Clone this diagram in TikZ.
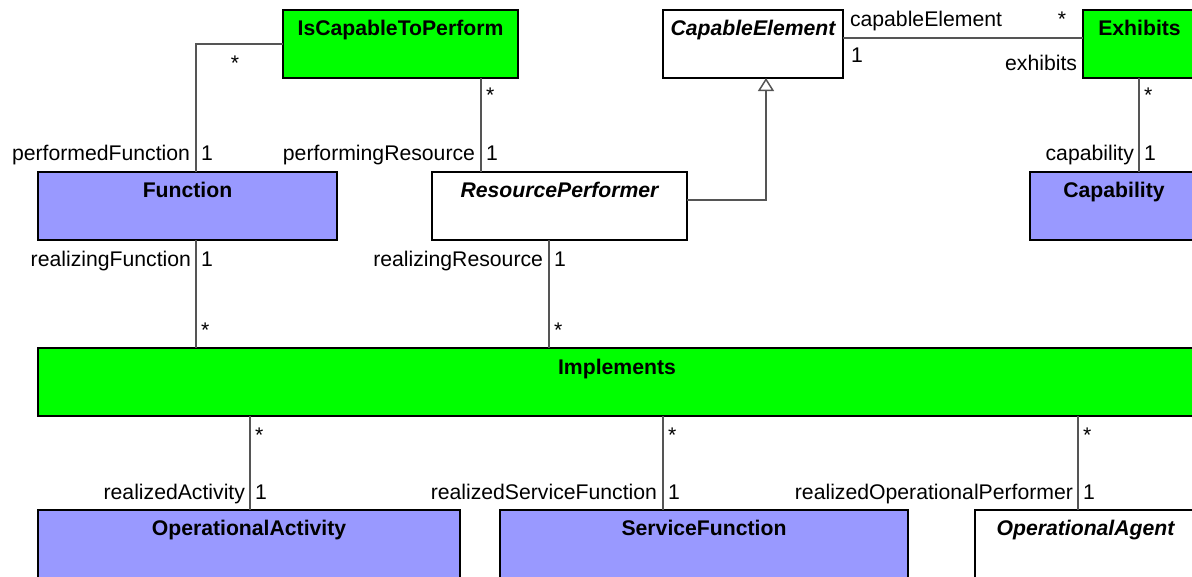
\documentclass[tikz,border=0pt]{standalone}
\usepackage{fontspec}
\setmainfont{Liberation Sans}
\usetikzlibrary{arrows.meta}
\definecolor{umlgreen}{HTML}{00FF00}
\definecolor{umlblue}{HTML}{9999FF}
\definecolor{connclr}{HTML}{555555}
\begin{document}
\begin{tikzpicture}[x=1pt,y=-1pt,
  every node/.style={font=\fontsize{21.2}{25}\selectfont, inner sep=0pt, outer sep=0pt},
  cls/.style={draw=black, line width=1.5pt, anchor=north west, minimum height=68pt},
  greenbox/.style={cls, fill=umlgreen},
  bluebox/.style={cls, fill=umlblue},
  whitebox/.style={cls, fill=white},
  ttl/.style={font=\fontsize{21.2}{25}\selectfont\bfseries, anchor=base},
  ttli/.style={font=\fontsize{21.2}{25}\selectfont\bfseries\itshape, anchor=base},
  conn/.style={draw=connclr, line width=1.5pt},
  role/.style={anchor=base east},
  mult/.style={anchor=base west},
]
\useasboundingbox (0,0) rectangle (1192,576);
\begin{scope}
\clip (0,0) rectangle (1192,576);
% boxes
\node[greenbox, minimum width=235pt] (isc) at (283,10) {};
\node[whitebox, minimum width=180pt] (ce) at (663,10) {};
\node[greenbox, minimum width=113pt] (ex) at (1083,10) {};
\node[bluebox, minimum width=299pt] (fn) at (38,172) {};
\node[whitebox, minimum width=255pt] (rp) at (432,172) {};
\node[bluebox, minimum width=168pt] (cap) at (1030,172) {};
\node[greenbox, minimum width=1158pt] (imp) at (38,348) {};
\node[bluebox, minimum width=422pt] (oa) at (38,510) {};
\node[bluebox, minimum width=408pt] (sf) at (500,510) {};
\node[whitebox, minimum width=221pt] (ag) at (975,510) {};
% titles
\node[ttl] (isct) at ([yshift=-25pt]isc.north) {IsCapableToPerform};
\node[ttli] (cet) at ([yshift=-25pt]ce.north) {CapableElement};
\node[ttl] (ext) at ([yshift=-25pt]ex.north) {Exhibits};
\node[ttl] (fnt) at ([yshift=-25pt]fn.north) {Function};
\node[ttli] (rpt) at ([yshift=-25pt]rp.north) {ResourcePerformer};
\node[ttl] (capt) at ([yshift=-25pt]cap.north) {Capability};
\node[ttl] (impt) at ([yshift=-26pt]imp.north) {Implements};
\node[ttl] (oat) at ([yshift=-25pt]oa.north) {OperationalActivity};
\node[ttl] (sft) at ([yshift=-25pt]sf.north) {ServiceFunction};
\node[ttli] (agt) at ([yshift=-25pt]ag.north) {OperationalAgent};
% connector coordinates
\coordinate (c1) at (196,44);
\coordinate (c2) at (481,0);
\coordinate (c3) at (843,38);
\coordinate (c4) at (1139,0);
\coordinate (c5) at (196,0);
\coordinate (c6) at (549,0);
\coordinate (c7) at (250,0);
\coordinate (c8) at (663,0);
\coordinate (c9) at (1078,0);
\coordinate (g1) at (766,200);
% connectors
\draw[conn] (isc.west |- c1) -- (c1) -- (fn.north -| c1);
\draw[conn] (isc.south -| c2) -- (rp.north -| c2);
\draw[conn] (ce.east |- c3) -- (ex.west |- c3);
\draw[conn] (ex.south -| c4) -- (cap.north -| c4);
\draw[conn] (fn.south -| c5) -- (imp.north -| c5);
\draw[conn] (rp.south -| c6) -- (imp.north -| c6);
\draw[conn] (imp.south -| c7) -- (oa.north -| c7);
\draw[conn] (imp.south -| c8) -- (sf.north -| c8);
\draw[conn] (imp.south -| c9) -- (ag.north -| c9);
\draw[conn, -{Triangle[open, width=16pt, length=13pt, line width=1.5pt]}] (rp.east |- g1) -- (g1) -- (ce.south -| g1);
% labels
\node[anchor=base] (l1) at (235,70) {*};
\node[role] (l2) at (190,160) {performedFunction};
\node[mult] (l3) at (201,160) {1};
\node[mult] (l4) at (486,102) {*};
\node[role] (l5) at (475,160) {performingResource};
\node[mult] (l6) at (486,160) {1};
\node[mult] (l7) at (850,26) {capableElement};
\node[role] (l8) at (1066,26) {*};
\node[mult] (l9) at (851,62) {1};
\node[role] (l10) at (1077,70) {exhibits};
\node[mult] (l11) at (1144,102) {*};
\node[role] (l12) at (1134,160) {capability};
\node[mult] (l13) at (1144,160) {1};
\node[role] (l14) at (191,266) {realizingFunction};
\node[mult] (l15) at (201,266) {1};
\node[mult] (l16) at (201,337) {*};
\node[role] (l17) at (543,266) {realizingResource};
\node[mult] (l18) at (554,266) {1};
\node[mult] (l19) at (554,337) {*};
\node[mult] (l20) at (255,442) {*};
\node[role] (l21) at (245,499) {realizedActivity};
\node[mult] (l22) at (255,499) {1};
\node[mult] (l23) at (668,442) {*};
\node[role] (l24) at (657,499) {realizedServiceFunction};
\node[mult] (l25) at (668,499) {1};
\node[mult] (l26) at (1083,442) {*};
\node[role] (l27) at (1073,499) {realizedOperationalPerformer};
\node[mult] (l28) at (1083,499) {1};
\end{scope}
\end{tikzpicture}
\end{document}
